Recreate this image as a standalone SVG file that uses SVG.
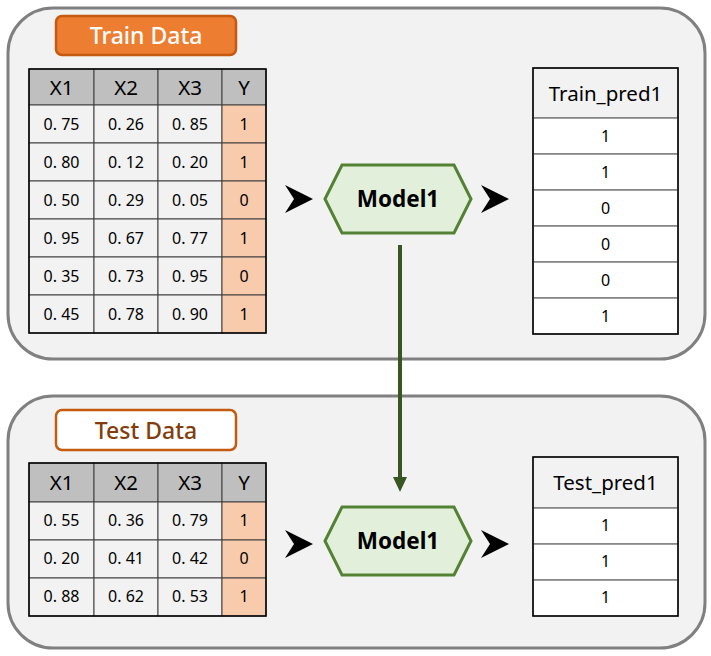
<svg xmlns="http://www.w3.org/2000/svg" width="711" height="656" viewBox="0 0 711 656">
<defs>
<style>
.panel{fill:#f2f2f2;stroke:#808080;stroke-width:3}
.hd{fill:#bfbfbf;stroke:#404040;stroke-width:1}
.cell{fill:#f2f2f2;stroke:#404040;stroke-width:1}
.ycell{fill:#f8cbad;stroke:#404040;stroke-width:1}
.pcell{fill:#ffffff;stroke:#808080;stroke-width:1.5}
.phd{fill:#f2f2f2;stroke:#808080;stroke-width:1.5}
.frame{fill:none;stroke:#000;stroke-width:1.5}
.t{font-family:"Noto Sans","Noto Sans CJK KR",sans-serif;text-anchor:middle;dominant-baseline:central;fill:#000}
.num{font-size:16px}
.h{font-size:20.5px}
.hex{fill:#e2efda;stroke:#548235;stroke-width:3}
.mt{font-size:22.5px;font-weight:bold}
.lab{font-size:23px;font-weight:500}
.chev{fill:#000}
</style>
<path id="chev" d="M0,-14 L28,0 L0,14 L9,0 Z"/>
</defs>

<g id="train-panel">
<rect class="panel" x="8" y="8" width="697" height="351" rx="45"/>
</g>
<g id="train-label">
<rect x="56" y="16" width="180" height="39" rx="6" fill="#ed7d31" stroke="#c55a11" stroke-width="2.5"/>
<text class="t lab" x="146" y="35" style="fill:#fff">Train Data</text>
</g>
<g id="train-table">
<rect class="hd" x="29" y="69" width="65" height="36"/>
<rect class="hd" x="94" y="69" width="64" height="36"/>
<rect class="hd" x="158" y="69" width="64" height="36"/>
<rect class="hd" x="222" y="69" width="44" height="36"/>
<text class="t h" x="61.5" y="87">X1</text>
<text class="t h" x="126" y="87">X2</text>
<text class="t h" x="190" y="87">X3</text>
<text class="t h" x="244" y="87">Y</text>
<g>
<rect class="cell" x="29" y="105" width="65" height="38"/><rect class="cell" x="94" y="105" width="64" height="38"/><rect class="cell" x="158" y="105" width="64" height="38"/><rect class="ycell" x="222" y="105" width="44" height="38"/>
<rect class="cell" x="29" y="143" width="65" height="38"/><rect class="cell" x="94" y="143" width="64" height="38"/><rect class="cell" x="158" y="143" width="64" height="38"/><rect class="ycell" x="222" y="143" width="44" height="38"/>
<rect class="cell" x="29" y="181" width="65" height="38"/><rect class="cell" x="94" y="181" width="64" height="38"/><rect class="cell" x="158" y="181" width="64" height="38"/><rect class="ycell" x="222" y="181" width="44" height="38"/>
<rect class="cell" x="29" y="219" width="65" height="38"/><rect class="cell" x="94" y="219" width="64" height="38"/><rect class="cell" x="158" y="219" width="64" height="38"/><rect class="ycell" x="222" y="219" width="44" height="38"/>
<rect class="cell" x="29" y="257" width="65" height="38"/><rect class="cell" x="94" y="257" width="64" height="38"/><rect class="cell" x="158" y="257" width="64" height="38"/><rect class="ycell" x="222" y="257" width="44" height="38"/>
<rect class="cell" x="29" y="295" width="65" height="38"/><rect class="cell" x="94" y="295" width="64" height="38"/><rect class="cell" x="158" y="295" width="64" height="38"/><rect class="ycell" x="222" y="295" width="44" height="38"/>
</g>
<rect class="frame" x="29" y="69" width="237" height="264"/>
<text class="t num" x="61.5" y="124">0. 75</text><text class="t num" x="126" y="124">0. 26</text><text class="t num" x="190" y="124">0. 85</text><text class="t num" x="244" y="124">1</text>
<text class="t num" x="61.5" y="162">0. 80</text><text class="t num" x="126" y="162">0. 12</text><text class="t num" x="190" y="162">0. 20</text><text class="t num" x="244" y="162">1</text>
<text class="t num" x="61.5" y="200">0. 50</text><text class="t num" x="126" y="200">0. 29</text><text class="t num" x="190" y="200">0. 05</text><text class="t num" x="244" y="200">0</text>
<text class="t num" x="61.5" y="238">0. 95</text><text class="t num" x="126" y="238">0. 67</text><text class="t num" x="190" y="238">0. 77</text><text class="t num" x="244" y="238">1</text>
<text class="t num" x="61.5" y="276">0. 35</text><text class="t num" x="126" y="276">0. 73</text><text class="t num" x="190" y="276">0. 95</text><text class="t num" x="244" y="276">0</text>
<text class="t num" x="61.5" y="314">0. 45</text><text class="t num" x="126" y="314">0. 78</text><text class="t num" x="190" y="314">0. 90</text><text class="t num" x="244" y="314">1</text>
</g>
<g id="train-model">
<polygon class="hex" points="325,199 342,165 454,165 471,199 454,233 342,233"/>
<text class="t mt" x="398" y="198">Model1</text>
</g>
<g id="train-pred">
<rect class="phd" x="533" y="68" width="145" height="50"/>
<rect class="pcell" x="533" y="118" width="145" height="36"/>
<rect class="pcell" x="533" y="154" width="145" height="36"/>
<rect class="pcell" x="533" y="190" width="145" height="36"/>
<rect class="pcell" x="533" y="226" width="145" height="36"/>
<rect class="pcell" x="533" y="262" width="145" height="36"/>
<rect class="pcell" x="533" y="298" width="145" height="36"/>
<rect class="frame" x="533" y="68" width="145" height="266"/>
<text class="t h" x="605.5" y="93">Train_pred1</text>
<text class="t num" x="605.5" y="136">1</text>
<text class="t num" x="605.5" y="172">1</text>
<text class="t num" x="605.5" y="208">0</text>
<text class="t num" x="605.5" y="244">0</text>
<text class="t num" x="605.5" y="280">0</text>
<text class="t num" x="605.5" y="316">1</text>
</g>

<g id="test-panel">
<rect class="panel" x="8" y="396" width="697" height="252" rx="45"/>
</g>
<g id="test-label">
<rect x="56" y="410" width="180" height="40" rx="6" fill="#ffffff" stroke="#c55a11" stroke-width="2.5"/>
<text class="t lab" x="146" y="430" style="fill:#843c0c">Test Data</text>
</g>
<g id="test-table">
<rect class="hd" x="29" y="463" width="65" height="39"/>
<rect class="hd" x="94" y="463" width="64" height="39"/>
<rect class="hd" x="158" y="463" width="64" height="39"/>
<rect class="hd" x="222" y="463" width="44" height="39"/>
<text class="t h" x="61.5" y="482">X1</text>
<text class="t h" x="126" y="482">X2</text>
<text class="t h" x="190" y="482">X3</text>
<text class="t h" x="244" y="482">Y</text>
<rect class="cell" x="29" y="502" width="65" height="38"/><rect class="cell" x="94" y="502" width="64" height="38"/><rect class="cell" x="158" y="502" width="64" height="38"/><rect class="ycell" x="222" y="502" width="44" height="38"/>
<rect class="cell" x="29" y="540" width="65" height="38"/><rect class="cell" x="94" y="540" width="64" height="38"/><rect class="cell" x="158" y="540" width="64" height="38"/><rect class="ycell" x="222" y="540" width="44" height="38"/>
<rect class="cell" x="29" y="578" width="65" height="38"/><rect class="cell" x="94" y="578" width="64" height="38"/><rect class="cell" x="158" y="578" width="64" height="38"/><rect class="ycell" x="222" y="578" width="44" height="38"/>
<rect class="frame" x="29" y="463" width="237" height="153"/>
<text class="t num" x="61.5" y="520">0. 55</text><text class="t num" x="126" y="520">0. 36</text><text class="t num" x="190" y="520">0. 79</text><text class="t num" x="244" y="520">1</text>
<text class="t num" x="61.5" y="558">0. 20</text><text class="t num" x="126" y="558">0. 41</text><text class="t num" x="190" y="558">0. 42</text><text class="t num" x="244" y="558">0</text>
<text class="t num" x="61.5" y="596">0. 88</text><text class="t num" x="126" y="596">0. 62</text><text class="t num" x="190" y="596">0. 53</text><text class="t num" x="244" y="596">1</text>
</g>
<g id="test-model">
<polygon class="hex" points="325,541 342,507 454,507 471,541 454,575 342,575"/>
<text class="t mt" x="398" y="540">Model1</text>
</g>
<g id="test-pred">
<rect class="phd" x="533" y="457" width="145" height="51"/>
<rect class="pcell" x="533" y="508" width="145" height="36"/>
<rect class="pcell" x="533" y="544" width="145" height="36"/>
<rect class="pcell" x="533" y="580" width="145" height="36"/>
<rect class="frame" x="533" y="457" width="145" height="159"/>
<text class="t h" x="605.5" y="482">Test_pred1</text>
<text class="t num" x="605.5" y="525">1</text>
<text class="t num" x="605.5" y="561">1</text>
<text class="t num" x="605.5" y="597">1</text>
</g>

<g id="connectors">
<use href="#chev" class="chev" x="285" y="199"/>
<use href="#chev" class="chev" x="481" y="199"/>
<use href="#chev" class="chev" x="285" y="544"/>
<use href="#chev" class="chev" x="481" y="544"/>
<line x1="400" y1="245" x2="400" y2="478" stroke="#375623" stroke-width="4"/>
<polygon points="393,477 407,477 400,492" fill="#375623"/>
</g>
</svg>
